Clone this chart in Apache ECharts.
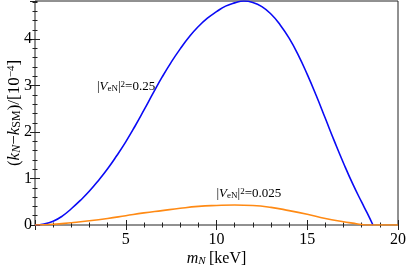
<!DOCTYPE html>
<html><head><meta charset="utf-8">
<script src="https://cdn.jsdelivr.net/npm/echarts@6/dist/echarts.min.js"></script>
<style>html,body{margin:0;padding:0;background:#fff}#c{width:407px;height:269px}</style>
</head><body><div id="c"></div>
<script>
// Data
const blueX = [0,0.5,1,1.5,2,2.5,3,3.5,4,4.5,5,5.5,6,6.5,7,7.5,8,8.5,9,9.5,10,10.5,11,11.5,12,12.5,13,13.5,14,14.5,15,15.5,16,16.5,17,17.5,18,18.3,18.62];
const blueY = [0,0.02,0.08,0.19,0.35,0.53,0.73,0.96,1.21,1.49,1.79,2.12,2.47,2.83,3.18,3.50,3.79,4.05,4.27,4.45,4.59,4.71,4.78,4.82,4.79,4.70,4.54,4.31,4.02,3.66,3.24,2.78,2.29,1.80,1.33,0.89,0.49,0.26,0];
const orangeX = [0,1,2,3,4,5,6,7,8,9,10,11,12,13,14,15,16,17,17.5,18,18.2];
const orangeY = [0,0.015,0.05,0.09,0.14,0.2,0.26,0.31,0.36,0.4,0.42,0.43,0.42,0.38,0.31,0.23,0.14,0.07,0.04,0.01,0];
const tailX = [18.2,20];
const tailY = [0,0];
const xTicks = [5,10,15,20];
const yTicks = [0,1,2,3,4];
const annoPos = [[6.62,2.98],[10.0,0.68]];
const annoAlign = ['right','left'];
const annoVal = ['0.25','0.025'];

const X_MIN=0, X_MAX=20, Y_MIN=0, Y_MAX=4.82;
const serif = 'Liberation Serif';
const chart = echarts.init(document.getElementById('c'), null, {renderer:'canvas'});

function pair(xs, ys){ return xs.map((x,i)=>[x, ys[i]]); }

function xa(pos, interval, len, labels){
  return {type:'value', position:pos, min:X_MIN, max:X_MAX, interval:interval,
    axisLine:{show:false}, splitLine:{show:false},
    axisTick:{show:true, inside:true, length:len, lineStyle:{color:'#222', width:1}},
    axisLabel:{show:labels, fontFamily:serif, fontSize:16, color:'#000', margin:7,
      formatter:v=> xTicks.includes(v)? String(v):''}};
}
function ya(pos, interval, len, labels){
  return {type:'value', position:pos, min:Y_MIN, max:Y_MAX, interval:interval,
    axisLine:{show:false}, splitLine:{show:false},
    axisTick:{show:true, inside:true, length:len, lineStyle:{color:'#222', width:1}},
    axisLabel:{show:labels, fontFamily:serif, fontSize:16, color:'#000', margin:3, showMaxLabel:false,
      formatter:v=> yTicks.includes(v)? String(v):''}};
}
const base = {fontFamily:serif, fontSize:16, color:'#000'};
const ybase = {fontFamily:serif, fontSize:17, color:'#000'};
const xAxes = [xa('bottom',5,5,true), xa('bottom',1,2.5,false), xa('top',5,5,false), xa('top',1,2.5,false)];
const yAxes = [ya('left',1,5,true), ya('left',0.2,2.5,false), ya('right',1,5,false), ya('right',0.2,2.5,false)];
xAxes[0].name = '{i|m}{subi|N} {r|[keV]}';
xAxes[0].nameLocation = 'middle';
xAxes[0].nameGap = 26;
xAxes[0].nameMoveOverlap = false;
xAxes[0].nameTextStyle = {rich:{
  r:Object.assign({},base), i:Object.assign({fontStyle:'italic'},base),
  subi:{fontFamily:serif, fontSize:11, fontStyle:'italic', color:'#000', verticalAlign:'bottom'}}};
yAxes[0].name = '{r|(}{i|k}{subi|N}{r|−}{i|k}{sub|SM}{r|)/[10}{sup|−4}{r|]}';
yAxes[0].nameLocation = 'middle';
yAxes[0].nameRotate = 90;
yAxes[0].nameGap = 12;
yAxes[0].nameMoveOverlap = false;
yAxes[0].nameTextStyle = {rich:{
  r:Object.assign({},ybase), i:Object.assign({fontStyle:'italic'},ybase),
  subi:{fontFamily:serif, fontSize:12, fontStyle:'italic', color:'#000', verticalAlign:'bottom'},
  sub:{fontFamily:serif, fontSize:12, color:'#000', verticalAlign:'bottom'},
  sup:{fontFamily:serif, fontSize:11, color:'#000', verticalAlign:'top'}}};

chart.setOption({
  animation:false,
  grid:{left:35, right:9, top:1, bottom:44, outerBoundsMode:'none', containLabel:false, show:true, borderColor:'#222', borderWidth:1, backgroundColor:'transparent'},
  xAxis:xAxes, yAxis:yAxes,
  series:[
    {type:'line', data:pair(blueX,blueY), smooth:0.5, showSymbol:false, symbol:'none', lineStyle:{color:'#0a0af5', width:1.6}, z:3},
    {type:'line', data:pair(orangeX,orangeY), smooth:0.5, showSymbol:false, symbol:'none', lineStyle:{color:'#ff8a14', width:1.6}, z:4},
    {type:'line', data:pair(tailX,tailY), showSymbol:false, symbol:'none', lineStyle:{color:'#ff8a14', width:1.6}, z:4}
  ]
});

const annoRich = {
  r:{fontFamily:serif, fontSize:13, color:'#222'},
  i:{fontFamily:serif, fontSize:13, fontStyle:'italic', color:'#222'},
  sub:{fontFamily:serif, fontSize:9, color:'#222', verticalAlign:'bottom'},
  sup:{fontFamily:serif, fontSize:9, color:'#222', verticalAlign:'top'}
};
const graphics = annoPos.map((p,k)=>{
  const px = chart.convertToPixel({gridIndex:0}, p);
  return {type:'text', x:px[0], y:px[1], z:10,
    style:{text:'{r||}{i|V}{sub|eN}{r||}{sup|2}{r|=' + annoVal[k] + '}', rich:annoRich, align:annoAlign[k], verticalAlign:'middle'}};
});
chart.setOption({graphic:graphics});
</script></body></html>
